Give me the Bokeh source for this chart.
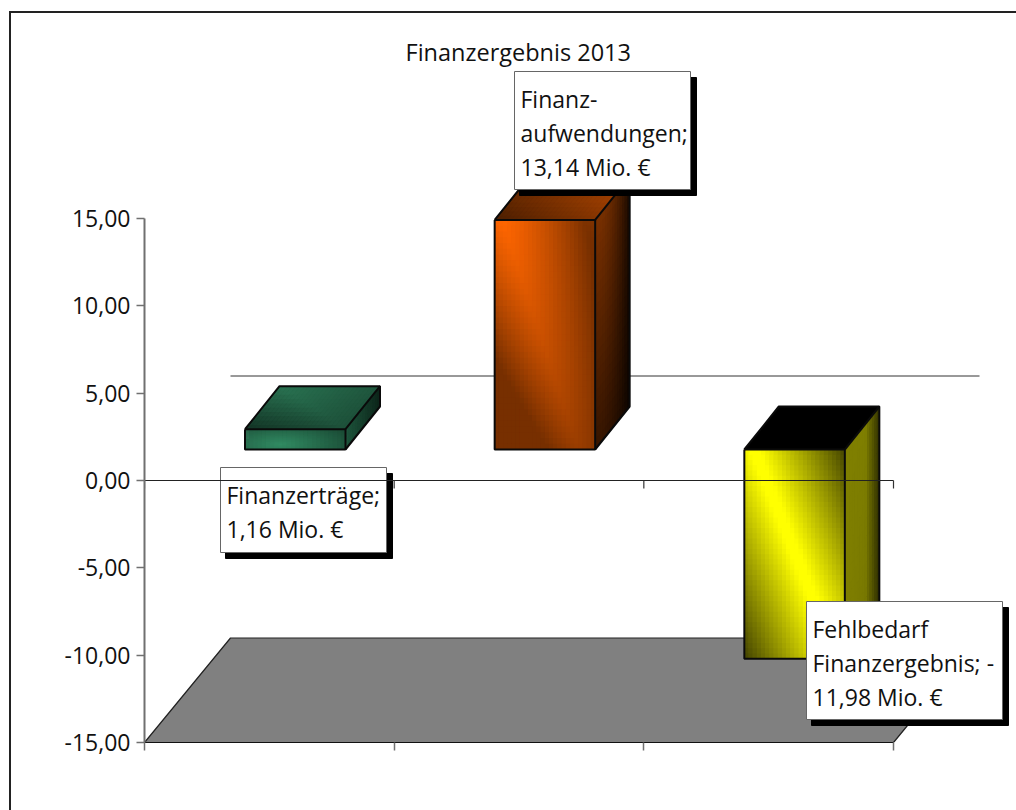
from bokeh.plotting import figure
from bokeh.embed import file_html
from bokeh.resources import INLINE
from bokeh.models import FixedTicker, Range1d
from bokeh.core.properties import value
import numpy as np

categories = ["Finanzerträge", "Finanzaufwendungen", "Fehlbedarf Finanzergebnis"]
values = [1.16, 13.14, -11.98]
y_ticks = [-15, -10, -5, 0, 5, 10, 15]
y_tick_labels = ["-15,00", "-10,00", "-5,00", "0,00", "5,00", "10,00", "15,00"]
title_text = "Finanzergebnis 2013"
label_lines = [
    ["Finanzerträge;", "1,16 Mio. €"],
    ["Finanz-", "aufwendungen;", "13,14 Mio. €"],
    ["Fehlbedarf", "Finanzergebnis; -", "11,98 Mio. €"],
]

FONT = "Open Sans"
W, H = 1016, 810
L_PX, R_PX, T_PX, B_PX = 144.0, 1016.0, 68.0, 742.0   # frame, page pixels
Y15_PX = 218.0
UY = (B_PX - Y15_PX) / 30.0
UX = (893.0 - 144.0) / 3.0


def X(px):
    return (px - L_PX) / UX


def Y(py):
    return (B_PX - py) / UY - 15.0


# the outer chart border (top and left edges) is painted behind a transparent canvas
BORDER = "linear-gradient(#222222,#222222)"
p = figure(width=W, height=H, output_backend="svg", toolbar_location=None,
           x_range=Range1d(0, X(R_PX)), y_range=Range1d(-15, Y(T_PX)),
           min_border_left=int(L_PX), min_border_right=0,
           min_border_top=int(T_PX), min_border_bottom=int(H - B_PX),
           background_fill_color=None, border_fill_color=None,
           styles={"background-image": f"{BORDER},{BORDER}",
                   "background-repeat": "no-repeat",
                   "background-position": "9px 11px,9px 11px",
                   "background-size": "100% 2px,2px 100%"})
p.grid.visible = False
p.outline_line_color = None

p.title.text = title_text
p.title.text_font = FONT
p.title.text_font_size = "23.5px"
p.title.text_font_style = "normal"
p.title.text_color = "#111111"
p.title.align = "left"
p.title.offset = 261
p.title.standoff = 2

ya = p.yaxis[0]
ya.bounds = (-15, 15)
ya.ticker = FixedTicker(ticks=y_ticks)
ya.major_label_overrides = {t: s for t, s in zip(y_ticks, y_tick_labels)}
ya.major_label_text_font = FONT
ya.major_label_text_font_size = "23px"
ya.major_label_text_color = "#111111"
ya.axis_line_color = "#707070"
ya.axis_line_width = 2
ya.major_tick_line_color = "#707070"
ya.major_tick_line_width = 1.5
ya.major_tick_in = 0
ya.major_tick_out = 8
ya.minor_tick_line_color = None
ya.major_label_standoff = 6

xa = p.xaxis[0]
xa.bounds = (0, 3)
xa.ticker = FixedTicker(ticks=[0, 1, 2, 3])
xa.major_label_overrides = {0: "", 1: "", 2: "", 3: ""}
xa.axis_line_color = "#111111"
xa.major_tick_line_color = "#707070"
xa.major_tick_line_width = 1.5
xa.major_tick_in = 0
xa.major_tick_out = 8
xa.minor_tick_line_color = None

# floor and back-wall zero line
depth_x, depth_y = 86.0 / UX, 104.5 / UY
p.patch([0, 3, 3 + depth_x, depth_x], [-15, -15, -15 + depth_y, -15 + depth_y],
        fill_color="#808080", line_color="#222222", line_width=1.2)
p.line([depth_x, 3 + depth_x], [depth_y, depth_y], line_color="#333333", line_width=1)

# bars
bar_off_x, bar_w = 100.5 / UX, 100.5 / UX
base_y = 31.0 / UY
side_x, side_y = 34.5 / UX, 43.0 / UY


def mix(c, b):
    r = [int(np.clip(k * b, 0, 255)) for k in c]
    return "#%02x%02x%02x" % tuple(r)


def front_orange(u, v):
    s = u - (0.08 + 0.75 * v)
    return max(0.47, 1 - 0.5 * min(abs(s) / 0.8, 1) ** 1.3 - 0.4 * v)


def front_yellow(u, v):
    s = u - (0.1 + 0.82 * v)
    return 1 - max(0, abs(s) - 0.05) * 0.85


def front_green(u, v):
    d = np.hypot((u - 0.35) * 0.8, (v - 0.75) * 0.5)
    return max(0.55, 1 - 0.75 * d)


def side_orange(u, v):
    return (0.48 - 0.38 * u ** 2) * (1 - 0.55 * v)


def side_yellow(u, v):
    return (0.5 if u < 0.6 else 0.5 - 0.3 * (u - 0.6) / 0.4) * (1 - 0.1 * v * u)


def side_green(u, v):
    return 0.62 - 0.35 * u


def top_orange(u, v):
    return 0.3 + 0.22 * u + 0.1 * (1 - abs(2 * v - 1))


def top_yellow(u, v):
    return 0.0


def top_green(u, v):
    return 0.62 + 0.2 * (1 - abs(u + v - 1)) - 0.25 * (1 - v)


styles = [
    ((0x33, 0x8c, 0x64), front_green, side_green, top_green),
    ((0xff, 0x66, 0x00), front_orange, side_orange, top_orange),
    ((0xff, 0xff, 0x00), front_yellow, side_yellow, top_yellow),
]

NU, NV = 24, 40
for i, (val, (col, ff, fs, ft)) in enumerate(zip(values, styles)):
    x0 = i + bar_off_x
    x1 = x0 + bar_w
    yb = base_y
    yt = base_y + val
    hi, lo = max(yb, yt), min(yb, yt)

    # front face: every cell overlaps the next one, so no seams show
    l, r, t, b, c = [], [], [], [], []
    for a in range(NU):
        for d in range(NV):
            ub, vb = min(a + 2, NU) / NU, min(d + 2, NV) / NV
            l.append(x0 + a / NU * bar_w)
            r.append(x0 + ub * bar_w)
            t.append(hi - d / NV * (hi - lo))
            b.append(hi - vb * (hi - lo))
            c.append(mix(col, ff((a + .5) / NU, (d + .5) / NV)))
    p.quad(left=l, right=r, top=t, bottom=b, fill_color=c, line_color=None)

    # side face
    xs, ys, c = [], [], []
    NS, NH = 14, 24
    for a in range(NS):
        for d in range(NH):
            ua, ub = a / NS, min(a + 2, NS) / NS
            va, vb = d / NH, min(d + 2, NH) / NH
            ha, hb = hi - va * (hi - lo), hi - vb * (hi - lo)
            xs.append([x1 + ua * side_x, x1 + ub * side_x, x1 + ub * side_x, x1 + ua * side_x])
            ys.append([ha + ua * side_y, ha + ub * side_y, hb + ub * side_y, hb + ua * side_y])
            c.append(mix(col, fs((a + .5) / NS, (d + .5) / NH)))
    p.patches(xs, ys, fill_color=c, line_color=None)

    # top face
    xs, ys, c = [], [], []
    NT = 10
    for a in range(NU):
        for d in range(NT):
            ua, ub = a / NU, min(a + 2, NU) / NU
            va, vb = d / NT, min(d + 2, NT) / NT
            xs.append([x0 + ua * bar_w + va * side_x, x0 + ub * bar_w + va * side_x,
                       x0 + ub * bar_w + vb * side_x, x0 + ua * bar_w + vb * side_x])
            ys.append([hi + va * side_y, hi + va * side_y, hi + vb * side_y, hi + vb * side_y])
            c.append(mix(col, ft((a + .5) / NU, (d + .5) / NT)))
    p.patches(xs, ys, fill_color=c, line_color=None)

    # edges
    edge = dict(line_color="#0a0a0a", line_width=2)
    p.line([x0, x1, x1, x0, x0], [hi, hi, lo, lo, hi], **edge)
    p.line([x0, x0 + side_x, x1 + side_x, x1 + side_x, x1],
           [hi, hi + side_y, hi + side_y, lo + side_y, lo], **edge)
    p.line([x1, x1 + side_x], [hi, hi + side_y], **edge)

# data labels: (left, right, top, bottom) box, text x, baselines in page pixels
boxes = [
    (220, 386, 467, 552, 226, [494, 528]),
    (514, 690, 71, 189, 520, [98, 132, 166]),
    (806, 1002, 601, 719, 812, [628, 662, 696]),
]
for (bl, br, bt, bb, tx, bases) in boxes:
    p.quad(left=[X(bl + 5)], right=[X(br + 6)], top=[Y(bt + 6)], bottom=[Y(bb + 6)],
           fill_color="black", line_color="black")
    p.quad(left=[X(bl)], right=[X(br)], top=[Y(bt)], bottom=[Y(bb)],
           fill_color="white", line_color="#666666", line_width=1)

# front zero line with its ticks (it runs across the bars and the first label box)
p.line([0, 3], [0, 0], line_color="#222222", line_width=1.2)
tick_len = 8.0 / UY
p.segment(x0=[0, 1, 2, 3], x1=[0, 1, 2, 3], y0=[0] * 4, y1=[-tick_len] * 4,
          line_color="#333333", line_width=1.2)

for (bl, br, bt, bb, tx, bases), lines in zip(boxes, label_lines):
    p.text(x=[X(tx)] * len(lines), y=[Y(q) for q in bases], text=lines,
           text_font=value(FONT), text_font_size="23px", text_color="#111111",
           text_baseline="alphabetic", text_align="left")

open("out.html", "w").write(file_html(p, INLINE))
